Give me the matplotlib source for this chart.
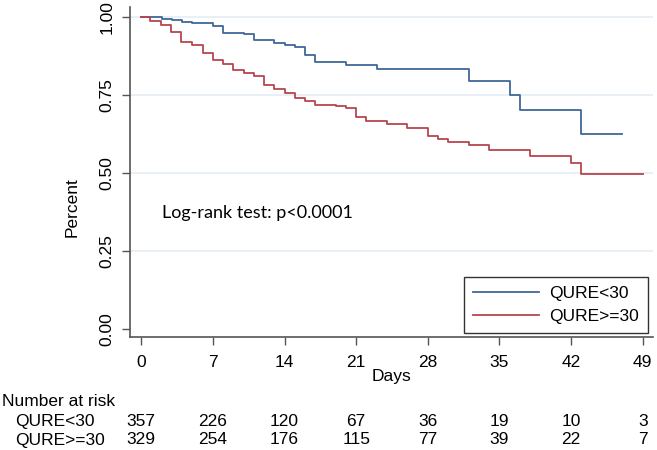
import matplotlib
matplotlib.use("Agg")
import matplotlib.pyplot as plt
import matplotlib.transforms as mtransforms

plt.rcParams['font.family'] = ['Liberation Sans', 'DejaVu Sans']

# Kaplan-Meier steps
t_lo = [0, 2, 3, 4, 5, 7, 8, 10, 11, 13, 14, 15, 16, 17, 20, 23, 32, 36, 37, 43, 47]
s_lo = [1.0, .994, .989, .983, .980, .972, .950, .945, .926, .918, .910, .903,
        .878, .857, .846, .832, .796, .750, .702, .625, .625]

t_hi = [0, 0.9, 1.9, 2.9, 3.9, 5, 6, 7, 8, 9, 10, 11, 12, 13, 14, 15, 16, 17, 19,
        20, 21, 22, 24, 26, 28, 29, 30, 32, 34, 38, 42, 43, 49]
s_hi = [1.0, .988, .974, .953, .921, .910, .884, .862, .848, .830, .821, .811, .781,
        .768, .755, .739, .731, .719, .713, .707, .679, .666, .658, .645, .620, .610,
        .598, .589, .574, .555, .531, .497, .497]

groups = ['QURE<30', 'QURE>=30']
days = [0, 7, 14, 21, 28, 35, 42, 49]
risk_lo = [357, 226, 120, 67, 36, 19, 10, 3]
risk_hi = [329, 254, 176, 115, 77, 39, 22, 7]

blue = '#3f6898'
red = '#b6454f'
fs = 12.5

fig = plt.figure(figsize=(6.57, 4.5), dpi=100)
ax = fig.add_axes([130/657, 113/450, 523/657, 330/450])

for y in [0.25, 0.5, 0.75, 1.0]:
    ax.axhline(y, color='#e4edf5', lw=1.2, zorder=0)

ax.step(t_lo, s_lo, where='post', color=blue, lw=1.3, label=groups[0])
ax.step(t_hi, s_hi, where='post', color=red, lw=1.3, label=groups[1])

ax.set_xlim(-1.1, 50.0)
ax.set_ylim(-0.026, 1.032)
ax.set_xticks(days)
ax.set_yticks([0, 0.25, 0.5, 0.75, 1.0])
ax.set_yticklabels(['0.00', '0.25', '0.50', '0.75', '1.00'], rotation=90, va='center')
ax.tick_params(labelsize=fs, length=6, width=1, color='#555555')
ax.tick_params(axis='x', pad=7)
ax.tick_params(axis='y', pad=5)

for s in ['top', 'right']:
    ax.spines[s].set_visible(False)
for s in ['left', 'bottom']:
    ax.spines[s].set_color('#555555')
    ax.spines[s].set_linewidth(1.2)

ax.set_xlabel('Days', fontsize=fs, labelpad=-1)
ax.set_ylabel('Percent', fontsize=fs)
ax.yaxis.set_label_coords(-0.096, 0.394)

ax.text(2.0, 0.372, 'Log-rank test: p<0.0001', fontsize=13, family=['Lato', 'DejaVu Sans'],
        va='center', ha='left')

leg = ax.legend(loc='lower right', bbox_to_anchor=(0.990, 0.013), fontsize=fs,
                fancybox=False, edgecolor='#333333', framealpha=1,
                handlelength=3.8, handletextpad=0.6, borderpad=0.5, labelspacing=0.45,
                borderaxespad=0)
leg.get_frame().set_linewidth(1.0)

# number at risk table
tr = mtransforms.blended_transform_factory(ax.transData, fig.transFigure)
fig.text(0.003, 1 - 401.7/450, 'Number at risk', fontsize=fs, va='center', ha='left')
fig.text(0.023, 1 - 421.7/450, groups[0], fontsize=fs, va='center', ha='left')
fig.text(0.023, 1 - 440/450, groups[1], fontsize=fs, va='center', ha='left')
for d, a, b in zip(days, risk_lo, risk_hi):
    ax.text(d, 1 - 421.7/450, str(a), transform=tr, fontsize=fs, ha='center', va='center')
    ax.text(d, 1 - 440/450, str(b), transform=tr, fontsize=fs, ha='center', va='center')

fig.savefig('out.png', dpi=100)
